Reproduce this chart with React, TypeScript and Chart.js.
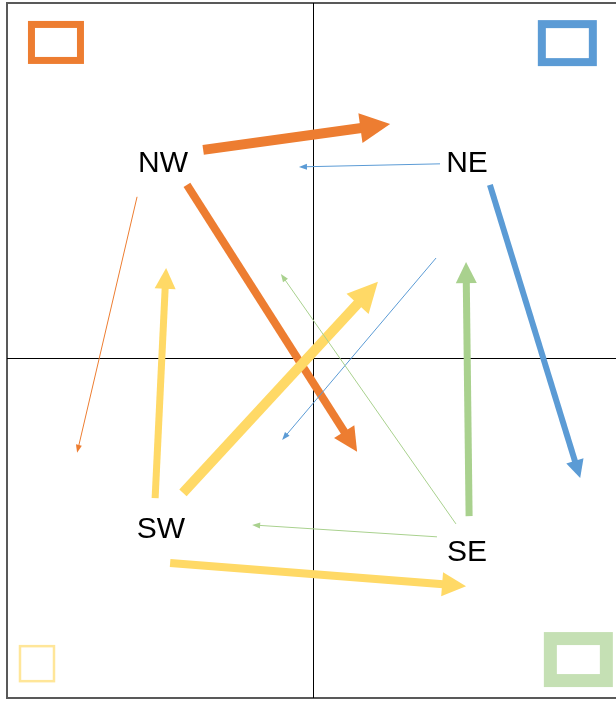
import React, { useEffect, useRef } from "react";
import { Chart, registerables } from "chart.js";

Chart.register(...registerables);

// Regions (quadrant labels) in chart units
const regions = ["NW", "NE", "SW", "SE"];
const regionX = [-4.9, 5.03, -4.97, 5.03];
const regionY = [5.74, 5.74, -5.03, -5.71];
const regionColors = ["#ED7D31", "#5B9BD5", "#FFD966", "#A9D18E"];

// Corner markers (one per region) in chart units
const markerX = [-8.4, 8.31, -9.02, 8.67];
const markerY = [9.28, 9.26, -8.99, -8.87];

// Flows between regions
const flowFrom = ["NW", "NW", "NW", "NE", "NE", "NE", "SW", "SW", "SW", "SE", "SE", "SE"];
const flowTo = ["NE", "SE", "SW", "NW", "SE", "SW", "NW", "NE", "SE", "NE", "NW", "SW"];
const flowWeight = [10, 8, 1, 1, 6, 1, 7, 10, 8, 7, 1, 1];
const flowStartX = [-3.59, -4.12, -5.75, 4.15, 5.78, 4.02, -5.16, -4.25, -4.67, 5.1, 4.67, 4.05];
const flowStartY = [6.12, 5.09, 4.74, 5.71, 5.09, 2.94, -4.12, -3.97, -6.03, -4.65, -4.88, -5.26];
const flowEndX = [2.52, 1.44, -7.71, -0.46, 8.73, -1.01, -4.8, 2.12, 5.0, 5.0, -1.05, -1.99];
const flowEndY = [6.88, -2.76, -2.79, 5.62, -3.53, -2.41, 2.65, 2.24, -6.71, 2.82, 2.47, -4.91];

// Axis range
const xMin = -10;
const xMax = 9.9;
const yMin = -10;
const yMax = 10.44;

const markerStyles = [
  { w: 49, h: 36, lw: 7, color: "#ED7D31" },
  { w: 51, h: 38, lw: 8, color: "#5B9BD5" },
  { w: 34, h: 35, lw: 2.5, color: "#FFE699" },
  { w: 56, h: 42, lw: 13, color: "#C5E0B4" },
];

const arrowPlugin = {
  id: "arrowPlugin",
  beforeDatasetsDraw(chart: any) {
    const ctx = chart.ctx;
    const area = chart.chartArea;
    const xs = chart.scales.x;
    const ys = chart.scales.y;
    ctx.save();
    // frame
    ctx.strokeStyle = "#595959";
    ctx.lineWidth = 2;
    ctx.beginPath();
    ctx.moveTo(area.right + 2, area.top);
    ctx.lineTo(area.left, area.top);
    ctx.lineTo(area.left, area.bottom);
    ctx.lineTo(area.right + 2, area.bottom);
    ctx.stroke();
    // center lines
    const cx = Math.round(xs.getPixelForValue(0)) + 0.5;
    const cy = Math.round(ys.getPixelForValue(0)) + 0.5;
    ctx.strokeStyle = "#000000";
    ctx.lineWidth = 1;
    ctx.beginPath();
    ctx.moveTo(cx, area.top);
    ctx.lineTo(cx, area.bottom);
    ctx.moveTo(area.left, cy);
    ctx.lineTo(area.right, cy);
    ctx.stroke();
    ctx.restore();
  },
  afterDatasetsDraw(chart: any) {
    const ctx = chart.ctx;
    ctx.save();
    chart.data.datasets.forEach((ds: any, i: number) => {
      const meta = chart.getDatasetMeta(i);
      if (ds.kind === "flow") {
        const p0 = meta.data[0];
        const p1 = meta.data[1];
        const w = ds.weight;
        const dx = p1.x - p0.x;
        const dy = p1.y - p0.y;
        const len = Math.hypot(dx, dy);
        const ux = dx / len;
        const uy = dy / len;
        const headL = Math.max(8, w * 3);
        const headW = Math.max(6, w * 3);
        const bx = p1.x - ux * headL;
        const by = p1.y - uy * headL;
        ctx.strokeStyle = ds.color;
        ctx.fillStyle = ds.color;
        ctx.lineWidth = w;
        ctx.lineCap = "butt";
        ctx.beginPath();
        ctx.moveTo(p0.x, p0.y);
        ctx.lineTo(bx + ux * 1, by + uy * 1);
        ctx.stroke();
        ctx.beginPath();
        ctx.moveTo(p1.x, p1.y);
        ctx.lineTo(bx - uy * headW / 2, by + ux * headW / 2);
        ctx.lineTo(bx + uy * headW / 2, by - ux * headW / 2);
        ctx.closePath();
        ctx.fill();
      } else if (ds.kind === "label") {
        ctx.fillStyle = "#000000";
        ctx.font = "30px 'Liberation Sans', Arial, sans-serif";
        ctx.textAlign = "center";
        ctx.textBaseline = "middle";
        meta.data.forEach((pt: any, j: number) => {
          ctx.fillText(regions[j], pt.x, pt.y + 1);
        });
      } else if (ds.kind === "marker") {
        meta.data.forEach((pt: any, j: number) => {
          const st = markerStyles[j];
          ctx.strokeStyle = st.color;
          ctx.lineWidth = st.lw;
          ctx.strokeRect(pt.x - st.w / 2, pt.y - st.h / 2, st.w, st.h);
        });
      }
    });
    ctx.restore();
  },
};

export default function App() {
  const canvasRef = useRef<HTMLCanvasElement | null>(null);

  useEffect(() => {
    if (!canvasRef.current) return;
    const flowSets = flowFrom.map((from, i) => ({
      kind: "flow",
      label: from + " → " + flowTo[i],
      weight: flowWeight[i],
      color: regionColors[regions.indexOf(from)],
      data: [
        { x: flowStartX[i], y: flowStartY[i] },
        { x: flowEndX[i], y: flowEndY[i] },
      ],
      pointRadius: 0,
      showLine: false,
    }));
    const labelSet = {
      kind: "label",
      label: "regions",
      data: regions.map((_, i) => ({ x: regionX[i], y: regionY[i] })),
      pointRadius: 0,
      showLine: false,
    };
    const markerSet = {
      kind: "marker",
      label: "markers",
      data: regions.map((_, i) => ({ x: markerX[i], y: markerY[i] })),
      pointRadius: 0,
      showLine: false,
    };
    const chart = new Chart(canvasRef.current, {
      type: "scatter",
      data: { datasets: [markerSet, ...flowSets, labelSet] as any },
      options: {
        animation: false,
        responsive: false,
        layout: { padding: { left: 7, top: 3, right: 0, bottom: 5 } },
        scales: {
          x: { type: "linear", min: xMin, max: xMax, display: false },
          y: { type: "linear", min: yMin, max: yMax, display: false },
        },
        plugins: {
          legend: { display: false },
          tooltip: { enabled: false },
        },
      },
      plugins: [arrowPlugin],
    });
    return () => chart.destroy();
  }, []);

  return (
    <div style={{ position: "absolute", left: 0, top: 0, width: 616, height: 703, background: "#ffffff" }}>
      <canvas ref={canvasRef} width={616} height={703} style={{ display: "block" }} />
    </div>
  );
}
